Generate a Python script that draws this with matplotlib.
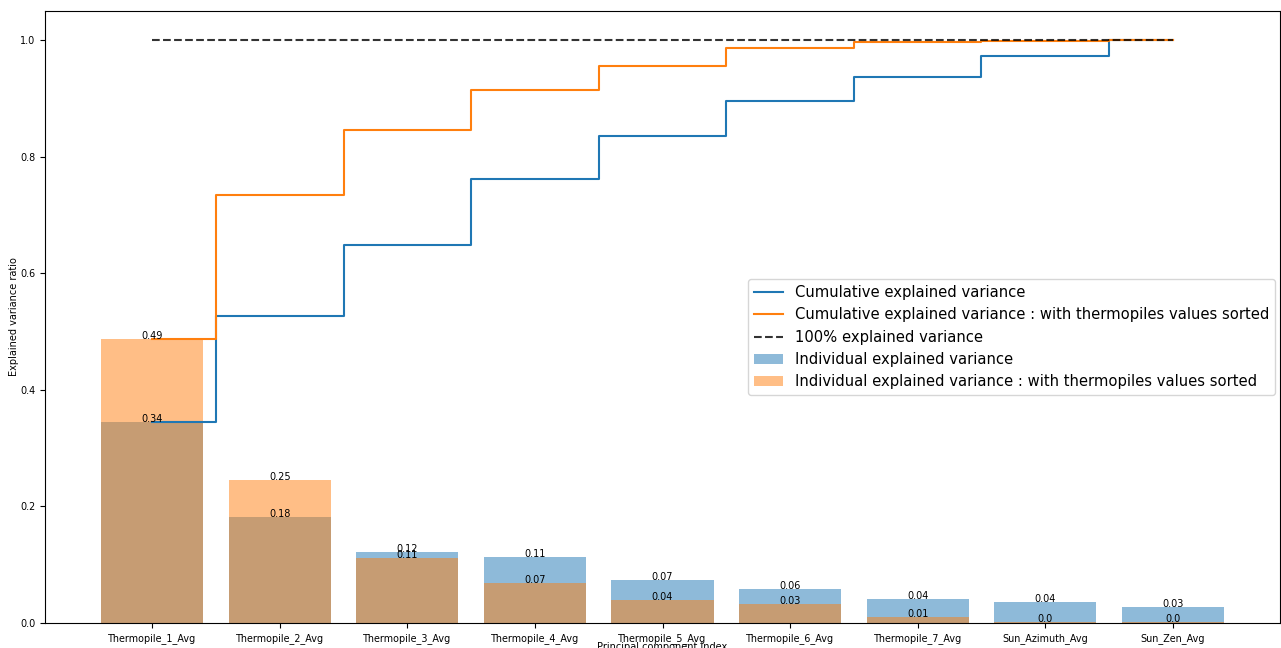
import numpy as np
import matplotlib
matplotlib.use("Agg")
import matplotlib.pyplot as plt

features = ["Thermopile_1_Avg", "Thermopile_2_Avg", "Thermopile_3_Avg",
            "Thermopile_4_Avg", "Thermopile_5_Avg", "Thermopile_6_Avg",
            "Thermopile_7_Avg", "Sun_Azimuth_Avg", "Sun_Zen_Avg"]

# explained variance ratio per component
var_ratio = [0.345, 0.182, 0.121, 0.114, 0.074, 0.059, 0.041, 0.036, 0.028]
var_ratio_sorted = [0.488, 0.246, 0.112, 0.069, 0.040, 0.032, 0.010, 0.002, 0.001]

cum_var = np.cumsum(var_ratio)
cum_var_sorted = np.cumsum(var_ratio_sorted)
idx = np.arange(len(features))

fig = plt.figure(figsize=(12.81, 6.48), dpi=100)
ax = fig.add_axes([45 / 1281, 25 / 648, 1235 / 1281, 612 / 648])

ax.step(idx, cum_var, where="mid", label="Cumulative explained variance")
ax.step(idx, cum_var_sorted, where="mid",
        label="Cumulative explained variance : with thermopiles values sorted")
ax.plot(idx, np.ones(len(idx)), "k--", alpha=0.8, label="100% explained variance")
ax.bar(idx, var_ratio, alpha=0.5, align="center", label="Individual explained variance")
ax.bar(idx, var_ratio_sorted, alpha=0.5, align="center",
       label="Individual explained variance : with thermopiles values sorted")

for i in idx:
    ax.text(i, var_ratio[i], str(round(var_ratio[i], 2)), ha="center", fontsize=7)
    ax.text(i, var_ratio_sorted[i], str(round(var_ratio_sorted[i], 2)), ha="center", fontsize=7)

ax.set_xticks(idx)
ax.set_xticklabels(features)
ax.tick_params(labelsize=6.9)
ax.set_ylabel("Explained variance ratio", fontsize=7)
ax.set_xlabel("Principal component index", fontsize=7)
ax.yaxis.set_label_coords(-0.021, 0.5)
ax.xaxis.set_label_coords(0.5, -0.031)
ax.legend(loc="upper right", bbox_to_anchor=(0.996, 0.562), borderaxespad=0,
          fontsize=10.6)

fig.savefig("out.png", dpi=100)
